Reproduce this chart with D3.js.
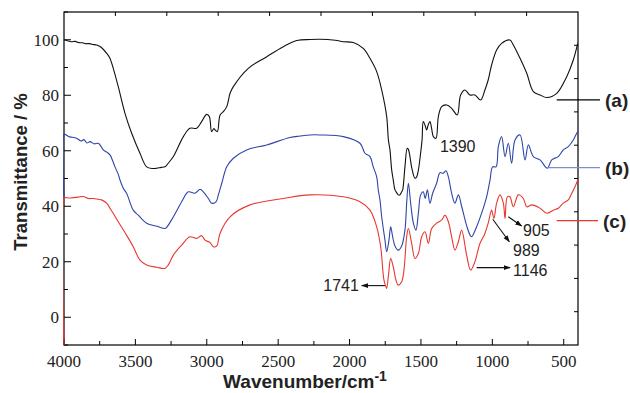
<!DOCTYPE html>
<html>
<head>
<meta charset="utf-8">
<script src="https://cdn.jsdelivr.net/npm/d3@7"></script>
<style>
  body { margin: 0; background: #fff; }
  svg { display: block; }
  .tick-label { font-family: "Liberation Serif", "DejaVu Serif", serif; font-size: 17px; fill: #222; }
  .title { font-family: "Liberation Sans", Arial, sans-serif; font-weight: bold; fill: #222; }
  .note { font-family: "Liberation Sans", Arial, sans-serif; font-size: 16px; fill: #222; }
</style>
</head>
<body>
<div id="chart"></div>
<script>
// FTIR spectra, [wavenumber, transmittance]
var curveA = [[4000,100],[3950,99.3],[3920,99.4],[3900,99],[3870,98.9],[3850,98.6],[3820,98.6],[3800,98.3],[3771,98.1],[3740,97.3],[3701,95.1],[3680,93.5],[3655,89.7],[3620,83.1],[3573,73.5],[3526,66.3],[3468,59.1],[3421,54.2],[3380,53.6],[3351,53.7],[3320,54],[3293,54.2],[3270,55.5],[3234,57.9],[3164,65.1],[3118,68.1],[3071,68.1],[3036,70.5],[3001,73.1],[2982,72.3],[2966,66.9],[2950,68],[2942,67.5],[2926,66.9],[2907,72.9],[2884,74.1],[2860,75.9],[2837,80.7],[2814,83.1],[2709,89.7],[2580,93.9],[2464,97.5],[2370,99.7],[2277,100.1],[2207,100.2],[2100,99.8],[2044,99.3],[1974,99.0],[1904,96.9],[1857,93.3],[1810,88.5],[1775,81.9],[1740,72.3],[1728,63.9],[1717,60.3],[1705,53.1],[1694,49.5],[1682,45.9],[1670,44.9],[1659,44.1],[1647,44.1],[1635,45.2],[1628,45.9],[1612,54.2],[1596,60.9],[1588,60.5],[1577,57.9],[1565,54],[1542,50.1],[1530,50.6],[1518,53],[1505,58],[1492,64],[1484,70.5],[1470,69],[1460,67.5],[1448,69.5],[1437,70.5],[1425,68],[1413,65.1],[1395,64.5],[1378,72.3],[1355,75.9],[1320,76.5],[1285,75.3],[1246,72.9],[1222,80.1],[1192,81.9],[1157,80.1],[1122,80.1],[1082,78.3],[1052,81.9],[1029,85.5],[1005,90.9],[970,96.3],[935,98.7],[877,99.9],[853,98.1],[806,93.3],[759,87.9],[713,81.3],[666,80.1],[619,79.2],[549,80.7],[479,86.7],[433,92.7],[402,98.7]];

var curveB = [[4000,43.2],[4000,65.9],[3993,65.9],[3960,65],[3930,64.8],[3911,64.5],[3880,63.5],[3860,64],[3840,62.8],[3818,63.3],[3790,62.5],[3760,62.7],[3740,61.5],[3725,60.3],[3700,59.5],[3678,58.5],[3660,56.5],[3643,54.2],[3620,51.5],[3608,49.5],[3585,46.5],[3561,44.6],[3515,38.6],[3480,36.8],[3421,33.9],[3350,32.8],[3293,32.0],[3281,32.4],[3234,36.2],[3176,41.6],[3129,45.2],[3083,44.7],[3047,46.1],[3024,45.2],[2989,42.8],[2966,41.1],[2935,41.6],[2919,44.1],[2895,48.3],[2860,54.2],[2814,57.3],[2721,60.3],[2580,62.1],[2417,64.8],[2347,65.3],[2277,65.7],[2207,65.7],[2044,65.1],[1927,62.7],[1892,59.1],[1857,57.9],[1834,54.2],[1810,50.6],[1799,45.9],[1787,42.3],[1775,36.2],[1752,27.8],[1740,23.6],[1724,27.8],[1712,32.6],[1698,29.0],[1682,25.7],[1659,24.2],[1635,25.7],[1612,31.4],[1600,41.1],[1588,48.3],[1572,41.1],[1553,33.9],[1535,31.4],[1518,37.5],[1502,44.1],[1484,45.2],[1470,42.8],[1455,45.9],[1437,41.1],[1418,44.7],[1390,48.3],[1367,52.1],[1343,51.9],[1325,52.8],[1308,50.6],[1285,44.7],[1262,41.1],[1238,44.1],[1215,40],[1180,33],[1156,29.6],[1145,29.0],[1110,32.6],[1075,37.5],[1040,43.4],[1016,49.5],[998,54.2],[974,54.2],[958,61.5],[935,65.1],[911,57.9],[888,62.7],[865,55.5],[841,63.9],[806,65.7],[771,56.7],[748,62.1],[713,57.9],[666,56.7],[615,53.7],[584,56.7],[538,57.9],[503,60.3],[468,61.5],[433,63.9],[409,66.3],[400,67]];

var curveC = [[4000,-10],[4000,43.1],[3993,43.1],[3950,43],[3900,43.3],[3865,43.5],[3830,42.8],[3795,42.8],[3760,42.5],[3736,42.3],[3700,41],[3678,39.3],[3650,37],[3620,34.4],[3561,29.5],[3515,25.4],[3468,20.6],[3421,18.8],[3350,18],[3293,17.6],[3270,18.8],[3234,22.4],[3176,26.0],[3118,29.0],[3071,28.4],[3036,29.4],[3012,27.8],[2977,26.9],[2954,25.4],[2930,25.7],[2907,30.3],[2837,36.2],[2697,40.5],[2464,42.8],[2277,44.1],[2044,43.4],[1927,41.6],[1857,38.6],[1810,32.6],[1782,25.4],[1759,13.4],[1745,11],[1740,10.4],[1726,15.8],[1712,21.2],[1694,18.2],[1675,13.4],[1659,11.6],[1635,12.8],[1619,17.0],[1600,29.0],[1588,32.0],[1565,26.6],[1542,21.2],[1518,23.0],[1495,29.0],[1472,30.8],[1448,26.6],[1425,32.0],[1390,33.9],[1355,35.0],[1332,36.8],[1308,34.4],[1285,29.0],[1262,24.2],[1238,27.2],[1215,31.4],[1180,22.4],[1152,17.0],[1122,20.0],[1087,26.6],[1052,30.2],[1029,33.9],[1005,38.6],[989,35.6],[970,41.1],[946,44.1],[923,41.1],[911,35.6],[895,43.4],[877,43.4],[853,39.8],[818,44.1],[783,42.8],[759,39.8],[724,40.5],[666,39.3],[619,37.5],[573,38.6],[538,39.3],[503,41.1],[468,42.3],[444,44.6],[421,47.0],[402,49.5]];

var xTicks = [4000, 3500, 3000, 2500, 2000, 1500, 1000, 500];
var yTicks = [0, 20, 40, 60, 80, 100];

// curve labels: text, colour, leader from/to wavenumber, level
var labels = [
  {text: "(a)", color: "#000", x0: 549, x1: 246, y: 78.3},
  {text: "(b)", color: "#7b8fd0", x0: 608, x1: 246, y: 53.9},
  {text: "(c)", color: "#e8372f", x0: 549, x1: 260, y: 34.8}
];

// peak annotations: arrow from (w0,v0) to (w1,v1), text at (tw,tv)
var notes = [
  {text: "1390", tw: 1367, tv: 59.5},
  {text: "1741", w0: 1752, v0: 11.4, w1: 1915, v1: 11.4, tw: 1935, tv: 9.6, anchor: "end"},
  {text: "1146", w0: 1110, v0: 17.9, w1: 876, v1: 17.9, tw: 855, tv: 15.0},
  {text: "989", w0: 997, v0: 35.3, w1: 881, v1: 27.2, tw: 855, tv: 22.1},
  {text: "905", w0: 888, v0: 36.2, w1: 795, v1: 32.9, tw: 785, tv: 29.3}
];

var margin = {top: 12, right: 52, bottom: 48, left: 64}
  , width = 630 - margin.left - margin.right
  , height = 393 - margin.top - margin.bottom;

var svg = d3.select("#chart").append("svg")
  .attr("width", 630)
  .attr("height", 393);

var defs = svg.append("defs");
defs.append("marker")
  .attr("id", "arrow")
  .attr("viewBox", "0 0 10 10")
  .attr("refX", 9).attr("refY", 5)
  .attr("markerWidth", 7).attr("markerHeight", 7)
  .attr("markerUnits", "userSpaceOnUse")
  .attr("orient", "auto")
  .append("path")
  .attr("d", "M0,1.5L10,5L0,8.5Z")
  .attr("fill", "#111");
defs.append("clipPath")
  .attr("id", "plot-clip")
  .append("rect")
  .attr("x", -1).attr("y", 0)
  .attr("width", width + 1).attr("height", height);

var g = svg.append("g").attr("transform", "translate(" + margin.left + "," + margin.top + ")");

var x = d3.scaleLinear().domain([4000, 400]).range([0, width]);
var y = d3.scaleLinear().domain([-10, 110]).range([height, 0]);
// the frame's top and right sides carry unlabelled ticks at their own spacing
var xTop = d3.scaleLinear().domain([0, 10]).range([0, width]);
var yRight = d3.scaleLinear().domain([0, 10]).range([height, 0]);

// bottom axis
var xMinor = d3.range(3750, 400, -500);
g.append("g").selectAll("line").data(xTicks).join("line")
  .attr("x1", d => x(d)).attr("x2", d => x(d))
  .attr("y1", height).attr("y2", height - 6)
  .attr("stroke", "#000");
g.append("g").selectAll("line").data(xMinor).join("line")
  .attr("x1", d => x(d)).attr("x2", d => x(d))
  .attr("y1", height).attr("y2", height - 4)
  .attr("stroke", "#000");
g.append("g").selectAll("text").data(xTicks).join("text")
  .attr("class", "tick-label")
  .attr("x", d => x(d))
  .attr("y", height + 22)
  .attr("text-anchor", "middle")
  .text(d => d);

// left axis
var yMinor = d3.range(-10, 111, 20);
g.append("g").selectAll("line").data(yTicks).join("line")
  .attr("x1", 0).attr("x2", 7)
  .attr("y1", d => y(d)).attr("y2", d => y(d))
  .attr("stroke", "#000");
g.append("g").selectAll("line").data(yMinor).join("line")
  .attr("x1", 0).attr("x2", 4)
  .attr("y1", d => y(d)).attr("y2", d => y(d))
  .attr("stroke", "#000");
g.append("g").selectAll("text").data(yTicks).join("text")
  .attr("class", "tick-label")
  .attr("x", -5)
  .attr("y", d => y(d))
  .attr("dy", "0.35em")
  .attr("text-anchor", "end")
  .text(d => d);

// top / right ticks
g.append("g").selectAll("line").data(d3.range(1, 10)).join("line")
  .attr("x1", d => xTop(d)).attr("x2", d => xTop(d))
  .attr("y1", 0).attr("y2", 4)
  .attr("stroke", "#000");
g.append("g").selectAll("line").data(d3.range(1, 10)).join("line")
  .attr("x1", width).attr("x2", width - 4)
  .attr("y1", d => yRight(d)).attr("y2", d => yRight(d))
  .attr("stroke", "#000");

// frame
g.append("rect")
  .attr("x", 0).attr("y", 0)
  .attr("width", width).attr("height", height)
  .attr("fill", "none")
  .attr("stroke", "#000")
  .attr("stroke-width", 1.2);

var line = d3.line()
  .x(d => x(d[0]))
  .y(d => y(d[1]))
  .curve(d3.curveCatmullRom.alpha(0.5));

var series = [
  {data: curveA, color: "#111"},
  {data: curveB, color: "#2e45a8"},
  {data: curveC, color: "#e8372f"}
];

g.append("g")
  .attr("clip-path", "url(#plot-clip)")
  .selectAll("path").data(series).join("path")
  .attr("d", d => line(d.data))
  .attr("fill", "none")
  .attr("stroke", d => d.color)
  .attr("stroke-width", 1.1)
  .attr("stroke-linejoin", "round");

// curve labels
var lab = g.append("g").selectAll("g").data(labels).join("g");
lab.append("line")
  .attr("x1", d => x(d.x0)).attr("x2", d => x(d.x1))
  .attr("y1", d => y(d.y)).attr("y2", d => y(d.y))
  .attr("stroke", d => d.color)
  .attr("stroke-width", 1.2);
lab.append("text")
  .attr("class", "title")
  .attr("x", d => x(d.x1) + 5)
  .attr("y", d => y(d.y))
  .attr("dy", "0.36em")
  .style("font-size", "19px")
  .text(d => d.text);

// peak notes
g.append("g").selectAll("line").data(notes.filter(d => d.w0)).join("line")
  .attr("x1", d => x(d.w0)).attr("y1", d => y(d.v0))
  .attr("x2", d => x(d.w1)).attr("y2", d => y(d.v1))
  .attr("stroke", "#111")
  .attr("stroke-width", 1.1)
  .attr("marker-end", "url(#arrow)");
g.append("g").selectAll("text").data(notes).join("text")
  .attr("class", "note")
  .attr("x", d => x(d.tw))
  .attr("y", d => y(d.tv))
  .attr("text-anchor", d => d.anchor || "start")
  .text(d => d.text);

// axis titles
var xt = svg.append("text")
  .attr("class", "title")
  .attr("x", 305)
  .attr("y", 388)
  .attr("text-anchor", "middle")
  .style("font-size", "19px");
xt.append("tspan").text("Wavenumber/cm");
xt.append("tspan").attr("dy", -7).style("font-size", "14px").text("-1");

svg.append("text")
  .attr("class", "title")
  .attr("transform", "translate(27,172) rotate(-90)")
  .attr("text-anchor", "middle")
  .style("font-size", "18.5px")
  .text("Transmittance / %");
</script>
</body>
</html>
